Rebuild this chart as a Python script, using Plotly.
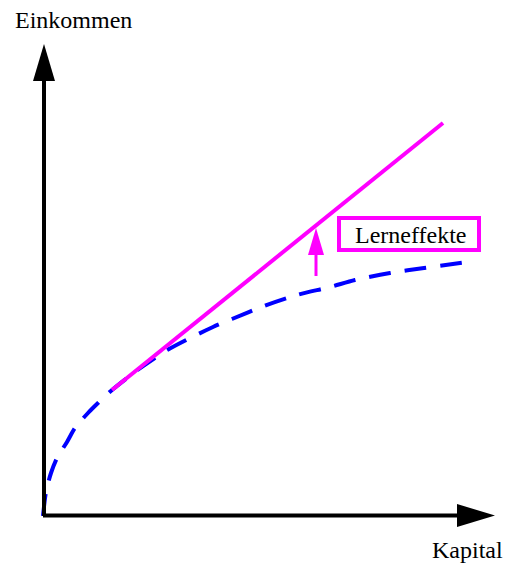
import plotly.graph_objects as go

# Blue dashed curve (Einkommen ohne Lerneffekte)
curve_x = [0, 3, 8, 14, 24, 32, 45, 55, 69, 96, 126, 170, 189, 221, 254, 287, 312, 347, 381, 425]
curve_y = [0, 24, 43, 58, 74, 88, 103, 113, 126, 147, 167, 189, 197, 210, 221, 229, 236, 243, 248, 254]
# Magenta straight line (mit Lerneffekten)
line_x = [69, 400]
line_y = [126, 393]
# Arrow showing learning effect
effect_x = 273
effect_from = 240
effect_to = 288

x_label = "Kapital"
y_label = "Einkommen"
box_label = "Lerneffekte"

BLUE = "#0000ff"
MAG = "#ff00ff"

fig = go.Figure()
fig.add_trace(go.Scatter(x=curve_x, y=curve_y, mode="lines",
                         line=dict(color=BLUE, width=4, dash="22px,14px", shape="spline", smoothing=0.8),
                         hoverinfo="skip"))
fig.add_trace(go.Scatter(x=line_x, y=line_y, mode="lines",
                         line=dict(color=MAG, width=4), hoverinfo="skip"))

shapes = []
# axes lines
shapes.append(dict(type="line", x0=1, y0=0, x1=1, y1=440, line=dict(color="black", width=4)))
shapes.append(dict(type="line", x0=0, y0=0.5, x1=418, y1=0.5, line=dict(color="black", width=4)))
# arrowheads
shapes.append(dict(type="path", path="M -10,435 L 12,435 L 1,472 Z", fillcolor="black", line=dict(width=0)))
shapes.append(dict(type="path", path="M 414,-11 L 414,12 L 452,0.5 Z", fillcolor="black", line=dict(width=0)))
# magenta effect arrow
shapes.append(dict(type="line", x0=effect_x, y0=effect_from, x1=effect_x, y1=effect_to - 24,
                   line=dict(color=MAG, width=3)))
shapes.append(dict(type="path",
                   path=f"M {effect_x-8},{effect_to-27} L {effect_x+8},{effect_to-27} L {effect_x},{effect_to} Z",
                   fillcolor=MAG, line=dict(width=0)))
# label box
shapes.append(dict(type="rect", x0=296, y0=266, x1=436, y1=298, line=dict(color=MAG, width=4)))
fig.update_layout(shapes=shapes)

font = dict(family="Liberation Serif, Times New Roman, serif", size=24, color="black")
fig.add_annotation(x=30, y=496, text=y_label, showarrow=False, font=font, xanchor="center", yanchor="middle")
fig.add_annotation(x=424, y=-34, text=x_label, showarrow=False, font=font, xanchor="center", yanchor="middle")
fig.add_annotation(x=367, y=281, text=box_label, showarrow=False, font=font, xanchor="center", yanchor="middle")

fig.update_layout(
    width=506, height=563,
    margin=dict(l=0, r=0, t=0, b=0),
    paper_bgcolor="white", plot_bgcolor="white",
    showlegend=False,
    hovermode=False,
    xaxis=dict(range=[-43, 463], visible=False, fixedrange=True),
    yaxis=dict(range=[-47, 516], visible=False, fixedrange=True),
)
# remove the browser's default body margin so the figure fills the window exactly
fig.write_html("out.html", config={"displayModeBar": False, "staticPlot": True},
               post_script="document.body.style.margin='0';document.body.style.overflow='hidden';")
